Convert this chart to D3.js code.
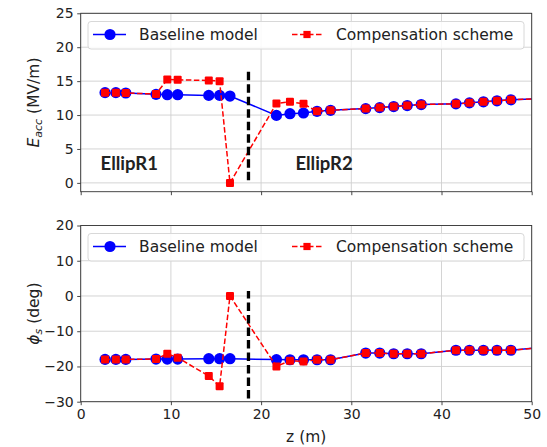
<!DOCTYPE html>
<html>
<head>
<meta charset="utf-8">
<script src="https://cdn.jsdelivr.net/npm/d3@7"></script>
<style>
  html, body { margin: 0; padding: 0; background: #fff; }
  svg { display: block; }
  text { font-family: "DejaVu Sans", sans-serif; fill: #222; }
</style>
</head>
<body>
<svg id="chart" width="547" height="447"></svg>
<script>
// Cavity positions along the linac (m); the last one sits past the plotted range
const zPos = [2.7, 3.9, 5.0, 8.35, 9.6, 10.75, 14.2, 15.4, 16.55, 21.7, 23.2, 24.7, 26.2, 27.7,
              31.6, 33.15, 34.7, 36.2, 37.75, 41.6, 43.1, 44.65, 46.15, 47.7, 51.6];

// Accelerating gradient (MV/m)
const eaccBaseline = [13.3, 13.3, 13.25, 13.05, 13.0, 13.0, 12.9, 12.9, 12.8, 9.95, 10.2, 10.3, 10.55, 10.7,
                      10.95, 11.1, 11.25, 11.4, 11.55, 11.65, 11.8, 11.95, 12.1, 12.25, 12.45];
const eaccCompensation = [13.3, 13.3, 13.25, 13.1, 15.25, 15.2, 15.1, 15.0, 0.0, 11.7, 11.95, 11.65, 10.55, 10.7,
                          10.95, 11.1, 11.25, 11.4, 11.55, 11.65, 11.8, 11.95, 12.1, 12.25, 12.45];

// Synchronous phase (deg)
const phiBaseline = [-18.0, -18.0, -18.0, -17.9, -17.9, -17.9, -17.8, -17.8, -17.8, -18.05, -18.1, -18.1, -18.1, -18.1,
                     -16.2, -16.2, -16.4, -16.4, -16.4, -15.4, -15.4, -15.4, -15.4, -15.4, -14.5];
const phiCompensation = [-18.0, -18.0, -18.0, -17.9, -16.4, -17.5, -22.7, -25.6, 0.0, -20.0, -18.35, -18.6, -18.1, -18.1,
                         -16.2, -16.2, -16.4, -16.4, -16.4, -15.4, -15.4, -15.4, -15.4, -15.4, -14.5];

const xTicks = [0, 10, 20, 30, 40, 50];
const eaccTicks = [0, 5, 10, 15, 20, 25];
const phiTicks = [-30, -20, -10, 0, 10, 20];
const seriesNames = ["Baseline model", "Compensation scheme"];
const sectionLabels = ["EllipR1", "EllipR2"];
const sectionLabelZ = [2.2, 23.8];
const boundaryZ = 18.6;
const eaccBoundary = [0.4, 16.5];
const phiBoundary = [-29.1, 1.4];

const svg = d3.select("#chart");
const x = d3.scaleLinear().domain([0, 50]).range([80.7, 531.7]);

const panels = [
  { y: d3.scaleLinear().domain([-1.3, 25]).range([191.7, 13.3]), ticks: eaccTicks,
    base: eaccBaseline, comp: eaccCompensation, boundary: eaccBoundary, legendTop: 21.5, xLabels: false, id: "top" },
  { y: d3.scaleLinear().domain([-30, 20]).range([401.7, 225.5]), ticks: phiTicks,
    base: phiBaseline, comp: phiCompensation, boundary: phiBoundary, legendTop: 233.5, xLabels: true, id: "bot" }
];

const blue = "#0000ff", red = "#ff0000";
const sq = 8; // square marker side

panels.forEach((p, pi) => {
  const [y0, y1] = p.y.range();
  const [xl, xr] = x.range();
  const g = svg.append("g");

  g.append("clipPath").attr("id", "clip-" + p.id)
    .append("rect").attr("x", xl).attr("y", y1).attr("width", xr - xl).attr("height", y0 - y1);

  // grid
  g.append("g").selectAll("line").data(xTicks).join("line")
    .attr("x1", d => x(d)).attr("x2", d => x(d)).attr("y1", y1).attr("y2", y0)
    .attr("stroke", "#cfcfcf").attr("stroke-width", 0.9);
  g.append("g").selectAll("line").data(p.ticks).join("line")
    .attr("x1", xl).attr("x2", xr).attr("y1", d => p.y(d)).attr("y2", d => p.y(d))
    .attr("stroke", "#cfcfcf").attr("stroke-width", 0.9);

  // axes
  const yAxis = g.append("g").attr("transform", `translate(${xl},0)`)
    .call(d3.axisLeft(p.y).tickValues(p.ticks).tickSize(3.5).tickPadding(3.5).tickFormat(d => d < 0 ? "\u2212" + Math.abs(d) : d));
  const xAxis = g.append("g").attr("transform", `translate(0,${y0})`)
    .call(d3.axisBottom(x).tickValues(xTicks).tickSize(3.5).tickPadding(3.5).tickFormat(p.xLabels ? d3.format("d") : () => ""));
  [yAxis, xAxis].forEach(a => {
    a.select(".domain").remove();
    a.selectAll("line").attr("stroke", "#333").attr("stroke-width", 0.9);
    a.selectAll("text").attr("font-size", 14).attr("fill", "#222").attr("font-family", "DejaVu Sans, sans-serif");
  });

  const data = zPos.map((z, i) => ({ z, b: p.base[i], c: p.comp[i] }));
  const plot = g.append("g").attr("clip-path", `url(#clip-${p.id})`);

  const lineB = d3.line().x(d => x(d.z)).y(d => p.y(d.b));
  const lineC = d3.line().x(d => x(d.z)).y(d => p.y(d.c));

  plot.append("path").datum(data).attr("d", lineB)
    .attr("fill", "none").attr("stroke", blue).attr("stroke-width", 1.5);
  plot.append("g").selectAll("circle").data(data).join("circle")
    .attr("cx", d => x(d.z)).attr("cy", d => p.y(d.b)).attr("r", 5.6).attr("fill", blue);

  plot.append("path").datum(data).attr("d", lineC)
    .attr("fill", "none").attr("stroke", red).attr("stroke-width", 1.5).attr("stroke-dasharray", "5.5,2.5");
  plot.append("g").selectAll("rect").data(data).join("rect")
    .attr("x", d => x(d.z) - sq / 2).attr("y", d => p.y(d.c) - sq / 2)
    .attr("width", sq).attr("height", sq).attr("rx", 1).attr("fill", red);

  // section boundary
  g.append("line")
    .attr("x1", x(boundaryZ)).attr("x2", x(boundaryZ))
    .attr("y1", p.y(p.boundary[0])).attr("y2", p.y(p.boundary[1]))
    .attr("stroke", "#000").attr("stroke-width", 3.3).attr("stroke-dasharray", "8.5,4");

  // frame
  g.append("rect").attr("x", xl).attr("y", y1).attr("width", xr - xl).attr("height", y0 - y1)
    .attr("fill", "none").attr("stroke", "#333").attr("stroke-width", 0.9);

  // legend
  const lg = g.append("g").attr("transform", `translate(88,${p.legendTop})`);
  lg.append("rect").attr("width", 436).attr("height", 27.5).attr("rx", 3)
    .attr("fill", "#fff").attr("fill-opacity", 0.85).attr("stroke", "#d8d8d8").attr("stroke-width", 1);
  const cy = 13;
  lg.append("line").attr("x1", 5).attr("x2", 38).attr("y1", cy).attr("y2", cy).attr("stroke", blue).attr("stroke-width", 1.5);
  lg.append("circle").attr("cx", 22).attr("cy", cy).attr("r", 5.6).attr("fill", blue);
  lg.append("text").attr("x", 51).attr("y", cy + 5.5).attr("font-size", 15.5).text(seriesNames[0]);
  lg.append("line").attr("x1", 204).attr("x2", 235).attr("y1", cy).attr("y2", cy)
    .attr("stroke", red).attr("stroke-width", 1.5).attr("stroke-dasharray", "5.5,2.5");
  lg.append("rect").attr("x", 219 - 3.6).attr("y", cy - 3.6).attr("width", 7.2).attr("height", 7.2).attr("fill", red);
  lg.append("text").attr("x", 248).attr("y", cy + 5.5).attr("font-size", 15.5).text(seriesNames[1]);
});

// section names
sectionLabels.forEach((s, i) => {
  svg.append("text").attr("x", x(sectionLabelZ[i])).attr("y", 170)
    .attr("font-weight", "bold").attr("font-size", 18.5)
    .attr("fill", "#000").style("font-family", "Lato, sans-serif").text(s);
});

// axis titles
const yl1 = svg.append("text").attr("transform", "translate(39,102.5) rotate(-90)")
  .attr("text-anchor", "middle").attr("font-size", 15.5);
yl1.append("tspan").attr("font-style", "italic").text("E");
yl1.append("tspan").attr("font-style", "italic").attr("font-size", 11).attr("dy", 3).text("acc");
yl1.append("tspan").attr("dy", -3).text(" (MV/m)");

const yl2 = svg.append("text").attr("transform", "translate(39,313.6) rotate(-90)")
  .attr("text-anchor", "middle").attr("font-size", 15.5);
yl2.append("tspan").attr("font-style", "italic").text("\u03d5");
yl2.append("tspan").attr("font-style", "italic").attr("font-size", 11).attr("dy", 3).text("s");
yl2.append("tspan").attr("dy", -3).text(" (deg)");

svg.append("text").attr("x", x(25)).attr("y", 442).attr("text-anchor", "middle")
  .attr("font-size", 15.5).text("z (m)");
</script>
</body>
</html>
